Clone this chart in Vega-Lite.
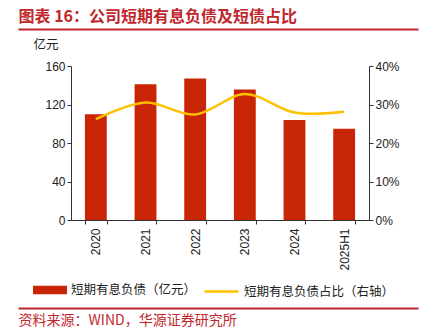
{
  "$schema": "https://vega.github.io/schema/vega-lite/v6.json",
  "padding": {"left": 18, "top": 8, "right": 0, "bottom": 0},
  "background": "white",
  "columns": 1,
  "spacing": 8,
  "config": {
    "view": {"stroke": null},
    "font": "Noto Sans CJK SC",
    "axis": {"domainColor": "#333333", "tickColor": "#333333", "labelColor": "#222222", "labelFont": "Liberation Sans", "labelFontSize": 12, "tickSize": 4, "grid": false}
  },
  "datasets": {
    "d": [
      {"year": "2020", "debt": 110, "ratio": 0.262},
      {"year": "2021", "debt": 141, "ratio": 0.305},
      {"year": "2022", "debt": 147, "ratio": 0.274},
      {"year": "2023", "debt": 135.7, "ratio": 0.327},
      {"year": "2024", "debt": 104, "ratio": 0.279},
      {"year": "2025H1", "debt": 94.7, "ratio": 0.281}
    ]
  },
  "concat": [
    {
      "width": 298,
      "height": 1,
      "data": {"values": [{"v": 0}]},
      "mark": {"type": "point", "size": 0, "opacity": 0},
      "encoding": {
        "x": {"field": "v", "type": "quantitative", "scale": {"domain": [0, 1], "range": [-53, 347]},
          "axis": {"orient": "top", "domainColor": "#C0272D", "domainWidth": 2, "ticks": false, "labels": false, "grid": false, "title": "图表 16：公司短期有息负债及短债占比", "titleAnchor": "start", "titleAlign": "left", "titleBaseline": "middle", "titlePadding": 12.5, "titleFont": "Noto Sans CJK SC", "titleFontSize": 16, "titleFontWeight": "bold", "titleColor": "#C0272D"}}
      }
    },
    {
      "width": 298,
      "height": 154,
      "data": {"name": "d"},
      "encoding": {
        "x": {"field": "year", "type": "nominal", "sort": null, "scale": {"paddingInner": 0.56, "paddingOuter": 0.28},
          "axis": {"labelAngle": -90, "labelPadding": 4, "tickBand": "extent", "title": null}}
      },
      "layer": [
        {
          "mark": {"type": "bar"},
          "encoding": {
            "y": {"field": "debt", "type": "quantitative", "scale": {"domain": [0, 160]},
              "axis": {"orient": "left", "values": [0, 40, 80, 120, 160], "title": "亿元", "titleAngle": 0, "titleAlign": "left", "titleBaseline": "middle", "titleX": -38, "titleY": -21.5, "titleFont": "Noto Sans CJK SC", "titleFontSize": 12.5, "titleFontWeight": "normal", "titleColor": "#222222", "labelPadding": 2, "minExtent": 53}},
            "fill": {"datum": "短期有息负债（亿元）", "type": "nominal", "scale": {"range": ["#C82506"]},
              "legend": {"orient": "none", "legendX": -38, "legendY": 244, "title": null, "symbolType": "M-1,-0.25H1V0.25H-1Z", "symbolSize": 1156, "symbolStrokeWidth": 0, "labelFont": "Noto Sans CJK SC", "labelFontSize": 12.5, "labelColor": "#222222", "labelOffset": 4, "labelLimit": 300}}
          }
        },
        {
          "mark": {"type": "line", "interpolate": "catmull-rom", "strokeWidth": 2.5},
          "encoding": {
            "y": {"field": "ratio", "type": "quantitative", "scale": {"domain": [0, 0.4]},
              "axis": {"orient": "right", "format": ".0%", "values": [0, 0.1, 0.2, 0.3, 0.4], "title": null, "labelPadding": 2}},
            "stroke": {"datum": "短期有息负债占比（右轴）", "type": "nominal", "scale": {"range": ["#FFC000"]},
              "legend": {"orient": "none", "legendX": 132, "legendY": 244, "title": null, "symbolType": "stroke", "symbolSize": 1156, "symbolStrokeWidth": 2.5, "labelFont": "Noto Sans CJK SC", "labelFontSize": 12.5, "labelColor": "#222222", "labelOffset": 4, "labelLimit": 300}}
          }
        }
      ],
      "resolve": {"scale": {"y": "independent"}}
    },
    {
      "width": 298,
      "height": 29,
      "data": {"values": [{"v": 0}]},
      "mark": {"type": "point", "size": 0, "opacity": 0},
      "encoding": {
        "x": {"field": "v", "type": "quantitative", "scale": {"domain": [0, 1], "range": [-53, 347]},
          "axis": {"orient": "bottom", "domainColor": "#C0272D", "domainWidth": 2, "ticks": false, "labels": false, "grid": false, "title": "资料来源：WIND，华源证券研究所", "titleAnchor": "start", "titleAlign": "left", "titleBaseline": "top", "titlePadding": 5, "titleFont": "Noto Sans CJK SC", "titleFontSize": 14, "titleFontWeight": "normal", "titleColor": "#C0272D"}}
      }
    }
  ]
}
